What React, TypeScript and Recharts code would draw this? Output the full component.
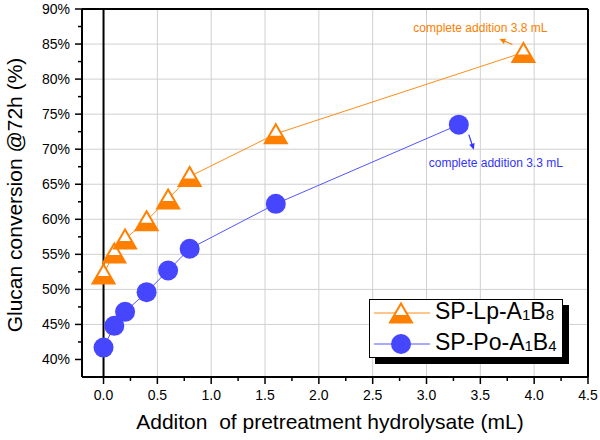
import React from 'react';
import { ScatterChart, Scatter, XAxis, YAxis, ReferenceLine, ReferenceDot } from 'recharts';

// Series values
const lpAddition = [0, 0.1, 0.2, 0.4, 0.6, 0.8, 1.6, 3.9];
const lpConversion = [0.522, 0.552, 0.572, 0.598, 0.629, 0.661, 0.722, 0.838];
const poAddition = [0, 0.1, 0.2, 0.4, 0.6, 0.8, 1.6, 3.3];
const poConversion = [0.417, 0.448, 0.468, 0.496, 0.527, 0.558, 0.622, 0.735];

// Tick values
const xMajorTicks = [0, 0.5, 1, 1.5, 2, 2.5, 3, 3.5, 4, 4.5];
const xMinorTicks = [0.25, 0.75, 1.25, 1.75, 2.25, 2.75, 3.25, 3.75, 4.25];
const yMajorTicks = [0.4, 0.45, 0.5, 0.55, 0.6, 0.65, 0.7, 0.75, 0.8, 0.85, 0.9];
const yMinorTicks = [0.425, 0.475, 0.525, 0.575, 0.625, 0.675, 0.725, 0.775, 0.825, 0.875];

const seriesNames = ['SP-Lp-A', 'SP-Po-A'];
const annotationTexts = ['complete addition 3.8 mL', 'complete addition 3.3 mL'];

const lpData = lpAddition.map((x, i) => ({ x, y: lpConversion[i] }));
const poData = poAddition.map((x, i) => ({ x, y: poConversion[i] }));
const xTicks = [...xMajorTicks, ...xMinorTicks].sort((a, b) => a - b);
const yTicks = [...yMajorTicks, ...yMinorTicks].sort((a, b) => a - b);

const ORANGE = '#FF8000';
const ORANGE_LINE = '#FF8C1A';
const BLUE = '#4646FF';
const BLUE_LINE = '#5555FF';
const GRID = '#D0D0D0';
const FONT = '"Liberation Sans", Arial, Helvetica, sans-serif';

const isIn = (arr: number[], v: number) => arr.some((m) => Math.abs(m - v) < 1e-6);

const XTick = (props: any) => {
  const { x, y, payload } = props;
  const v = payload.value as number;
  const major = isIn(xMajorTicks, v);
  return (
    <g>
      <line x1={x} x2={x} y1={y} y2={y + (major ? 7 : 4)} stroke="#000" strokeWidth={1.5} />
      {major && (
        <text x={x} y={y + 23} textAnchor="middle" fontSize={14} fontFamily={FONT} fill="#000">
          {v.toFixed(1)}
        </text>
      )}
    </g>
  );
};

const YTick = (props: any) => {
  const { x, y, payload } = props;
  const v = payload.value as number;
  const major = isIn(yMajorTicks, v);
  return (
    <g>
      <line x1={x} x2={x - (major ? 7 : 4)} y1={y} y2={y} stroke="#000" strokeWidth={1.5} />
      {major && (
        <text x={x - 12} y={y + 5} textAnchor="end" fontSize={14} fontFamily={FONT} fill="#000">
          {`${Math.round(v * 100)}%`}
        </text>
      )}
    </g>
  );
};

const Triangle = ({ cx, cy }: { cx: number; cy: number }) => {
  const w = 11;
  const h = 9.5;
  const fillTop = 2;
  const hw = (w * (fillTop + h)) / (2 * h);
  return (
    <g>
      <polygon
        points={`${cx},${cy - h} ${cx + w},${cy + h} ${cx - w},${cy + h}`}
        fill="#fff"
        stroke={ORANGE}
        strokeWidth={2}
        strokeLinejoin="miter"
      />
      <polygon
        points={`${cx - hw},${cy + fillTop} ${cx + hw},${cy + fillTop} ${cx + w},${cy + h} ${cx - w},${cy + h}`}
        fill={ORANGE}
      />
    </g>
  );
};

const Circle = ({ cx, cy }: { cx: number; cy: number }) => <circle cx={cx} cy={cy} r={10} fill={BLUE} />;

const Arrow = ({ x1, y1, x2, y2, color }: { x1: number; y1: number; x2: number; y2: number; color: string }) => {
  const dx = x2 - x1;
  const dy = y2 - y1;
  const len = Math.sqrt(dx * dx + dy * dy);
  const ux = dx / len;
  const uy = dy / len;
  const hl = 6;
  const hw = 2.8;
  const bx = x2 - ux * hl;
  const by = y2 - uy * hl;
  return (
    <g>
      <line x1={x1} y1={y1} x2={bx} y2={by} stroke={color} strokeWidth={1.2} />
      <polygon
        points={`${x2},${y2} ${bx - uy * hw},${by + ux * hw} ${bx + uy * hw},${by - ux * hw}`}
        fill={color}
      />
    </g>
  );
};

const LpNote = (p: any) => {
  const { cx, cy } = p;
  return (
    <g>
      <text x={cx - 43} y={cy - 20} textAnchor="middle" fontSize={12} fontFamily={FONT} fill={ORANGE}>
        {annotationTexts[0]}
      </text>
      <Arrow x1={cx - 11} y1={cy - 8} x2={cx - 24} y2={cy - 13.5} color={ORANGE} />
    </g>
  );
};

const PoNote = (p: any) => {
  const { cx, cy } = p;
  return (
    <g>
      <text x={cx + 37} y={cy + 42} textAnchor="middle" fontSize={12} fontFamily={FONT} fill="#3333FF">
        {annotationTexts[1]}
      </text>
      <Arrow x1={cx + 10} y1={cy + 10} x2={cx + 15} y2={cy + 25} color="#3333FF" />
    </g>
  );
};

const YLabel = (props: any) => {
  const vb = props.viewBox || { x: 0, y: 9, width: 82, height: 368 };
  const x = vb.x + 21.5;
  const y = vb.y + vb.height / 2 + 2;
  return (
    <text x={x} y={y} transform={`rotate(-90, ${x}, ${y})`} textAnchor="middle" fontSize={21} fontFamily={FONT} fill="#000">
      Glucan conversion @72h (%)
    </text>
  );
};

const XLabel = (props: any) => {
  const vb = props.viewBox || { x: 82, y: 377, width: 506, height: 63 };
  return (
    <text
      x={vb.x + vb.width / 2 - 5}
      y={vb.y + 52}
      textAnchor="middle"
      fontSize={21}
      fontFamily={FONT}
      fill="#000"
      style={{ whiteSpace: 'pre' }}
    >
      {'Additon  of pretreatment hydrolysate (mL)'}
    </text>
  );
};

const LegendIcon = ({ kind }: { kind: 'tri' | 'circ' }) => (
  <svg width={58} height={24} style={{ display: 'block' }}>
    <line x1={0} x2={56} y1={12} y2={12} stroke={kind === 'tri' ? ORANGE_LINE : BLUE_LINE} strokeWidth={1} />
    {kind === 'tri' ? <Triangle cx={27} cy={12} /> : <Circle cx={27} cy={12} />}
  </svg>
);

const LegendBox = () => {
  const row = (kind: 'tri' | 'circ', name: string, a: string, b: string, top: number) => (
    <div style={{ position: 'absolute', left: 4, top, display: 'flex', alignItems: 'center', height: 24 }}>
      <LegendIcon kind={kind} />
      <span style={{ marginLeft: 3, fontFamily: FONT, fontSize: 23, lineHeight: '24px', color: '#000', whiteSpace: 'nowrap' }}>
        {name}
        <span style={{ fontSize: 15, verticalAlign: '-1px' }}>{a}</span>B
        <span style={{ fontSize: 15, verticalAlign: '-1px' }}>{b}</span>
      </span>
    </div>
  );
  return (
    <div
      style={{
        position: 'absolute',
        left: 369,
        top: 299,
        width: 192,
        height: 57,
        background: '#fff',
        border: '1px solid #000',
        boxShadow: '6px 6px 0 #000',
        boxSizing: 'content-box',
      }}
    >
      {row('tri', seriesNames[0], '1', '8', 1)}
      {row('circ', seriesNames[1], '1', '4', 32)}
    </div>
  );
};

export default function App() {
  return (
    <div style={{ position: 'absolute', left: 0, top: 0, width: 600, height: 440, background: '#fff' }}>
      <ScatterChart width={600} height={440} margin={{ top: 9, right: 12, bottom: 0, left: 0 }}>
        <XAxis
          type="number"
          dataKey="x"
          domain={[-0.2, 4.5]}
          ticks={xTicks}
          interval={0}
          allowDataOverflow
          height={63}
          tickSize={0}
          tickMargin={0}
          tickLine={false}
          axisLine={{ stroke: '#000', strokeWidth: 2 }}
          tick={<XTick />}
          label={<XLabel />}
        />
        <YAxis
          type="number"
          dataKey="y"
          domain={[0.375, 0.9]}
          ticks={yTicks}
          interval={0}
          allowDataOverflow
          width={82}
          tickSize={0}
          tickMargin={0}
          tickLine={false}
          axisLine={{ stroke: '#000', strokeWidth: 2 }}
          tick={<YTick />}
          label={<YLabel />}
        />
        {xMajorTicks.slice(1, -1).map((v) => (
          <ReferenceLine key={`gx${v}`} x={v} stroke={GRID} strokeWidth={1} />
        ))}
        {yMajorTicks.slice(1, -1).map((v) => (
          <ReferenceLine key={`gy${v}`} y={v} stroke={GRID} strokeWidth={1} />
        ))}
        <ReferenceLine x={0} stroke="#000" strokeWidth={2} />
        <ReferenceLine x={4.5} stroke="#000" strokeWidth={2} />
        <ReferenceLine y={0.9} stroke="#000" strokeWidth={2} />
        <Scatter
          data={lpData}
          isAnimationActive={false}
          line={{ stroke: ORANGE_LINE, strokeWidth: 1 }}
          shape={(p: any) => <Triangle cx={p.cx} cy={p.cy} />}
        />
        <Scatter
          data={poData}
          isAnimationActive={false}
          line={{ stroke: BLUE_LINE, strokeWidth: 1 }}
          shape={(p: any) => <Circle cx={p.cx} cy={p.cy} />}
        />
        <ReferenceDot x={lpAddition[7]} y={lpConversion[7]} r={1} shape={(p: any) => <LpNote {...p} />} />
        <ReferenceDot x={poAddition[7]} y={poConversion[7]} r={1} shape={(p: any) => <PoNote {...p} />} />
      </ScatterChart>
      <LegendBox />
    </div>
  );
}
